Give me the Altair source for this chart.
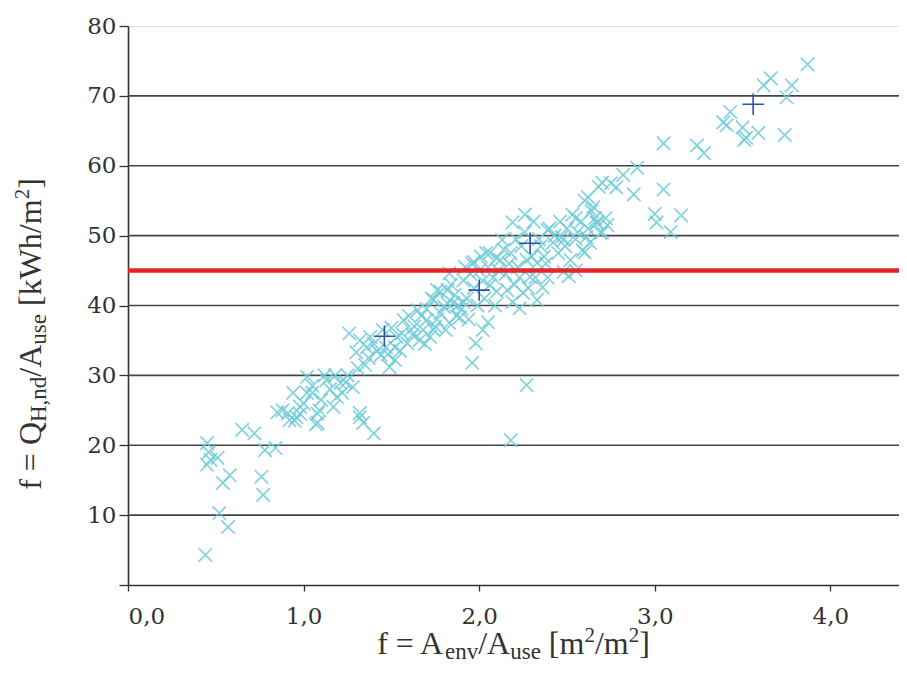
import altair as alt
import pandas as pd

# cyan "x" markers: envelope ratio A_env/A_use and heating demand Q_H,nd/A_use
env_ratio = [
    3.87, 3.66, 3.62, 3.78, 3.75, 3.43, 3.39, 3.41, 3.50, 3.52, 3.59, 3.74, 3.51,
    3.05, 3.24, 3.28, 2.90, 2.82, 2.70, 2.78, 2.88, 3.05, 2.62, 2.65, 3.00, 3.15,
    3.01, 3.09, 2.55, 2.67, 2.73, 2.69, 2.48, 2.60,
    2.19, 2.26, 2.39, 2.47, 2.59, 2.61, 2.67, 2.13, 2.04, 1.97, 2.10, 2.22, 2.33,
    2.48, 2.29, 2.36, 2.25, 2.33, 2.23, 2.16, 2.06, 1.91, 1.83, 1.76, 1.82, 1.89,
    1.74, 2.05, 2.02, 1.98, 1.96, 2.27, 2.18,
    1.26, 1.32, 1.30, 1.36, 1.44, 1.49, 1.57, 1.61, 1.65, 1.70, 1.74, 1.78, 1.82,
    1.85, 1.59, 1.66, 1.53, 1.02, 1.13, 1.21, 0.94, 1.05, 1.19, 0.98, 1.09, 0.91,
    1.32, 1.34, 1.40, 1.08, 1.28,
    0.45, 0.46, 0.47, 0.45, 0.51, 0.58, 0.54, 0.52, 0.57, 0.44, 0.76, 0.77, 0.78,
    0.84, 0.65, 0.72, 0.85, 0.92, 0.96, 1.02, 1.32,
    1.47, 1.50, 1.55, 1.60, 1.62, 1.68, 1.70, 1.72, 1.76, 1.80, 1.83, 1.86, 1.88,
    1.90, 1.93, 1.95, 1.97, 2.00, 2.02, 2.05, 2.08, 2.10, 2.12, 2.15, 2.18, 2.20,
    2.24, 2.27, 2.30, 2.32, 2.35, 2.38, 2.40, 2.42, 2.45, 2.50, 2.52, 2.55, 2.58,
    2.62, 2.64, 2.70, 2.72, 2.75, 2.68, 1.35, 1.38, 1.42, 1.25, 1.15, 1.22, 1.00,
    1.10, 1.18, 0.95, 1.07, 1.08,
    1.31, 1.37, 1.40, 1.45, 1.48, 1.52, 1.56, 1.52,
    1.63, 1.67, 1.69, 1.73, 1.75, 1.78, 1.81, 1.84, 1.87, 1.91, 1.92, 1.94, 1.96,
    1.99, 2.01, 2.03, 2.06, 2.09, 2.11, 2.14, 2.17, 2.19, 2.21, 2.23, 2.26, 2.28,
    2.31, 2.34, 2.37, 2.39, 2.43, 2.46, 2.49, 2.53, 2.56, 2.60, 2.63, 2.66,
    1.05, 1.12, 1.17, 1.24, 0.98, 0.88, 2.55, 2.51,
]
heat_demand = [
    74.5, 72.5, 71.5, 71.5, 69.8, 67.7, 66.2, 65.8, 65.5, 64.0, 64.7, 64.4, 63.7,
    63.2, 62.9, 61.8, 59.7, 58.7, 57.6, 56.9, 55.9, 56.6, 55.5, 54.1, 53.1, 52.9,
    51.9, 50.5, 52.5, 51.9, 51.5, 50.4, 49.4, 47.6,
    51.9, 53.0, 50.8, 49.8, 47.9, 49.8, 51.8, 49.4, 47.5, 46.2, 46.8, 45.5, 46.1,
    44.8, 44.1, 42.6, 41.8, 40.8, 39.6, 42.2, 42.9, 43.6, 44.6, 42.2, 40.3, 38.3,
    36.5, 37.6, 36.5, 34.6, 31.8, 28.6, 20.7,
    36.0, 35.0, 33.3, 34.0, 32.9, 31.2, 37.9, 36.5, 39.3, 37.9, 40.8, 38.9, 42.2,
    40.3, 34.6, 35.0, 35.5, 29.8, 29.3, 28.9, 27.5, 27.5, 26.9, 25.5, 25.0, 24.6,
    24.6, 23.2, 21.7, 23.2, 28.3,
    20.3, 19.0, 17.9, 17.2, 18.2, 15.7, 14.6, 10.3, 8.3, 4.3, 15.5, 12.9, 19.3,
    19.6, 22.2, 21.7, 24.7, 23.6, 24.0, 27.5, 24.0,
    34.0, 36.8, 33.5, 38.5, 35.8, 36.5, 39.5, 35.5, 38.0, 39.8, 37.5, 41.5, 40.0,
    39.5, 41.0, 44.5, 42.5, 45.0, 43.5, 45.5, 44.0, 42.0, 46.5, 44.5, 47.5, 43.0,
    48.5, 46.5, 47.0, 44.0, 48.5, 46.0, 51.0, 49.0, 47.5, 51.0, 46.5, 49.5, 52.0,
    51.0, 53.5, 50.5, 52.5, 57.5, 57.0, 31.5, 35.5, 33.5, 30.0, 28.0, 27.5, 26.0,
    26.5, 30.0, 23.5, 23.0, 24.5,
    31.0, 32.5, 34.5, 36.5, 33.0, 34.0, 36.0, 32.2,
    37.0, 38.5, 34.5, 41.0, 37.0, 42.0, 36.5, 43.0, 38.5, 40.5, 45.5, 38.0, 46.0,
    40.0, 47.0, 41.0, 47.5, 40.0, 45.0, 48.0, 46.0, 40.5, 49.5, 44.0, 50.5, 42.5,
    52.0, 49.5, 47.0, 44.0, 50.0, 52.0, 48.5, 53.0, 50.5, 55.0, 49.0, 52.5,
    28.5, 30.0, 25.5, 29.0, 24.5, 25.0, 45.0, 44.2,
]

# blue "+" markers
plus_x = [1.46, 2.00, 2.29, 3.56]
plus_y = [35.6, 42.2, 48.9, 68.8]

limit_value = [45]
grid_values = [10, 20, 30, 40, 50, 60, 70]
y_ticks = [0, 10, 20, 30, 40, 50, 60, 70, 80]
x_ticks = [0, 1, 2, 3, 4]

# axis titles split into normal / subscript / superscript runs
x_title_runs = ["f = A", "env", "/A", "use", " [m", "2", "/m", "2", "]"]
x_title_kinds = ["n", "sub", "n", "sub", "n", "sup", "n", "sup", "n"]
y_title_runs = ["f = Q", "H,nd", "/A", "use", " [kWh/m", "2", "]"]
y_title_kinds = ["n", "sub", "n", "sub", "n", "sup", "n"]

W, H = 771, 559
X_MAX = W / 175.6

TFONT = "Liberation Serif"
LFONT = "DejaVu Serif"
TXT = "#333333"
SIZES = {"n": 32, "sub": 23, "sup": 21}
SHIFT = {"n": 0, "sub": 5, "sup": -12}
# Times / Liberation Serif advance widths (1/1000 em)
ADV = {" ": 250, "f": 333, "=": 564, "A": 722, "e": 444, "n": 500,
       "v": 500, "/": 278, "u": 500, "s": 389, "[": 333, "m": 778, "]": 333,
       "2": 500, "Q": 722, "H": 722, ",": 250, "d": 500, "k": 500, "W": 944,
       "h": 500}


def run_width(text, kind):
    return sum(ADV[c] for c in text) / 1000.0 * SIZES[kind]


def title_layers(runs, kinds, x0, y0, angle):
    layers = []
    pos = 0.0
    for text, kind in zip(runs, kinds):
        shown = text.lstrip(" ")
        lead = run_width(text[: len(text) - len(shown)], kind)
        props = dict(align="left", baseline="alphabetic", font=TFONT,
                     fontSize=SIZES[kind], color=TXT, dx=pos + lead,
                     dy=SHIFT[kind])
        if angle:
            props["angle"] = angle
        layers.append(
            alt.Chart(pd.DataFrame({"t": [shown]})).mark_text(**props).encode(
                text="t:N", x=alt.value(x0), y=alt.value(y0)
            )
        )
        pos += run_width(text, kind)
    return layers, pos


pts = pd.DataFrame({"x": env_ratio, "y": heat_demand})
plus = pd.DataFrame({"x": plus_x, "y": plus_y})
limit = pd.DataFrame({"y": limit_value})
grid = pd.DataFrame({"y": grid_values})

x_scale = alt.Scale(domain=[0, X_MAX], nice=False, zero=True)
y_scale = alt.Scale(domain=[0, 80], nice=False)

x_axis = alt.Axis(
    values=x_ticks,
    labelExpr="replace(format(datum.value, '.1f'), '.', ',')",
    title="",
    grid=False,
    labelFont=LFONT, labelFontSize=23, labelColor=TXT, labelPadding=14,
    domainColor="#333333", domainWidth=1.6,
    tickColor="#333333", tickSize=6, tickWidth=1.3,
)
y_axis = alt.Axis(
    values=y_ticks,
    labelExpr="datum.value == 0 ? '' : datum.label",
    title="",
    grid=False,
    labelFont=LFONT, labelFontSize=23, labelColor=TXT, labelPadding=3,
    domainColor="#333333", domainWidth=1.6,
    tickColor="#333333", tickSize=9, tickWidth=1.3,
)

base_x = alt.X("x:Q", scale=x_scale, axis=x_axis)
base_y = alt.Y("y:Q", scale=y_scale, axis=y_axis)

grid_layer = alt.Chart(grid).mark_rule(color="#444444", strokeWidth=1.6).encode(
    y=alt.Y("y:Q", scale=y_scale, axis=y_axis)
)

x_shape = "M-1,-1L1,1M-1,1L1,-1"
plus_shape = "M-1,0L1,0M0,-1L0,1"

points_layer = alt.Chart(pts).mark_point(
    shape=x_shape, filled=False, size=180, strokeWidth=1.7,
    color="#6fcbd9", opacity=0.85
).encode(x=base_x, y=base_y)

limit_layer = alt.Chart(limit).mark_rule(color="#e3262b", strokeWidth=4.5).encode(
    y=alt.Y("y:Q", scale=y_scale, axis=y_axis)
)

plus_layer = alt.Chart(plus).mark_point(
    shape=plus_shape, filled=False, size=460, strokeWidth=1.6,
    color="#2a55a3", opacity=1
).encode(x=base_x, y=base_y)

# x-axis title, centred under the plot
_, xw = title_layers(x_title_runs, x_title_kinds, 0, 0, 0)
x_title, _ = title_layers(x_title_runs, x_title_kinds, W / 2 - xw / 2, 628, 0)
# y-axis title, rotated, reading bottom to top
_, yw = title_layers(y_title_runs, y_title_kinds, 0, 0, 270)
y_title, _ = title_layers(y_title_runs, y_title_kinds, -87, 308 + yw / 2, 270)

chart = alt.layer(
    grid_layer, points_layer, limit_layer, plus_layer, *x_title, *y_title
).properties(
    width=W, height=H,
    autosize=alt.AutoSizeParams(type="none"),
    padding={"left": 120, "top": 18, "right": 0, "bottom": 81},
).configure_view(stroke=None).configure(background="white")

chart.save("out.html", embed_options={"renderer": "svg", "actions": False})
